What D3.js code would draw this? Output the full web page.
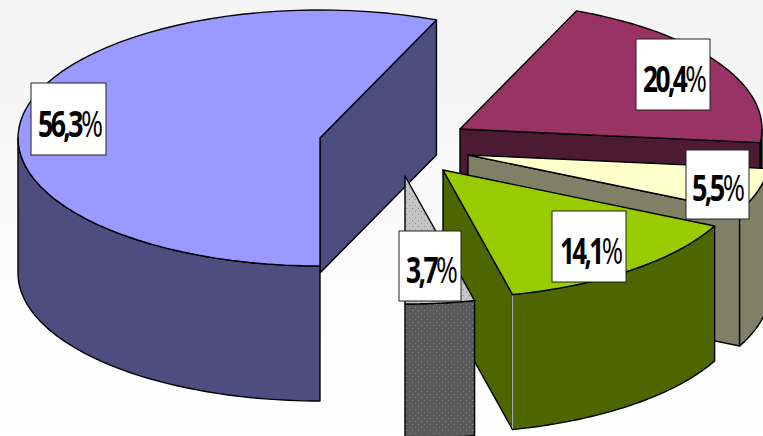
<!DOCTYPE html>
<html>
<head>
<meta charset="utf-8">
<style>
  html, body { margin: 0; padding: 0; background: #fff; }
  svg { display: block; }
</style>
<script src="https://cdnjs.cloudflare.com/ajax/libs/d3/7.8.5/d3.min.js"></script>
</head>
<body>
<svg id="chart" width="763" height="436"></svg>
<script>
// Share of each segment, in percent, clockwise from the front of the pie.
const segments = ["a", "b", "c", "d", "e"];
const shares = [56.3, 20.4, 5.5, 14.1, 3.7];

// Top and wall fills per segment.
const topFills = ["#9999ff", "#993366", "#ffffcc", "#99cc00", "url(#dotsLight)"];
const wallFills = ["#4d4d80", "#4d1a33", "#808066", "#4d6600", "url(#dotsDark)"];

// Where each exploded wedge has its apex.
const apexX = [320, 460, 468, 443, 405];
const apexY = [138, 129, 155, 170, 176];

// Label boxes: left, top, right, bottom, then text left, text right, baseline.
const boxLeft = [31, 636, 686, 552, 399];
const boxTop = [83, 39, 150, 211, 231];
const boxRight = [106, 710, 749, 626, 461];
const boxBottom = [155, 110, 219, 282, 301];
const textLeft = [38, 643, 692, 560, 406];
const textRight = [103, 707, 745, 623, 458];
const baseline = [137, 92, 201, 264, 283];

const radiusX = 302, radiusY = 128, depth = 135;
const tracking = -3.5;
const svg = d3.select("#chart");
const defs = svg.append("defs");

// Soft page background.
const bg = defs.append("linearGradient").attr("id", "page")
  .attr("x1", 0).attr("y1", 0).attr("x2", 0).attr("y2", 1);
bg.append("stop").attr("offset", "0").attr("stop-color", "#f4f4f4");
bg.append("stop").attr("offset", "0.25").attr("stop-color", "#f6f6f6");
bg.append("stop").attr("offset", "0.55").attr("stop-color", "#fbfbfb");
bg.append("stop").attr("offset", "1").attr("stop-color", "#ffffff");
svg.append("rect").attr("width", 763).attr("height", 436).attr("fill", "url(#page)");

// Dotted fills of the smallest segment.
function dots(id, base, dot) {
  const p = defs.append("pattern").attr("id", id).attr("patternUnits", "userSpaceOnUse")
    .attr("width", 6).attr("height", 6);
  p.append("rect").attr("width", 6).attr("height", 6).attr("fill", base);
  p.append("rect").attr("x", 1).attr("y", 1).attr("width", 1).attr("height", 1).attr("fill", dot);
  p.append("rect").attr("x", 4).attr("y", 4).attr("width", 1).attr("height", 1).attr("fill", dot);
}
dots("dotsLight", "#c4c4c4", "#8f8f8f");
dots("dotsDark", "#5a5a5a", "#858585");

const pie = d3.pie().sort(null).startAngle(0).endAngle(2 * Math.PI);
const arcs = pie(shares);
const line = d3.line();

// Projects an angle, measured clockwise from the front, onto the tilted rim.
const rim = (i, t, drop = 0) => [
  apexX[i] - radiusX * Math.sin(t),
  apexY[i] + radiusY * Math.cos(t) + drop
];
const sweep = (i, a, b, drop = 0) =>
  d3.range(0, 61).map(k => rim(i, a + (b - a) * k / 60, drop));

const paint = (d, fill, parent) => parent.append("path")
  .attr("d", d).attr("fill", fill).attr("stroke", "#000")
  .attr("stroke-width", 1.4).attr("stroke-linejoin", "round");

const QUARTER = Math.PI / 2;

arcs.forEach((arc, i) => {
  const g = svg.append("g").attr("class", "segment-" + segments[i]);
  const a = arc.startAngle, b = arc.endAngle;

  // Cut face behind the end edge, seen when it turns towards the viewer.
  if (Math.sin(b) < -1e-6) {
    const e = rim(i, b);
    const o = [apexX[i], apexY[i]];
    paint(line([o, e, [e[0], e[1] + depth], [o[0], o[1] + depth]]) + "Z", wallFills[i], g);
  }

  // Outer wall: only the front half of the rim faces the viewer.
  const ranges = [[a, Math.min(b, QUARTER)], [Math.max(a, 3 * QUARTER), b]];
  ranges.filter(r => r[1] > r[0]).forEach(r => {
    const pts = sweep(i, r[0], r[1]).concat(sweep(i, r[1], r[0], depth));
    paint(line(pts) + "Z", wallFills[i], g);
  });

  // Top face.
  const top = [[apexX[i], apexY[i]]].concat(sweep(i, a, b));
  paint(line(top) + "Z", topFills[i], g);

  // Pale seam down the corner of the green wedge.
  if (segments[i] === "d") {
    const c = rim(i, b);
    g.append("path").attr("d", line([[c[0], c[1] + 1], [c[0], c[1] + depth - 1]]))
      .attr("stroke", "#a8a8a8").attr("stroke-width", 1.4).attr("fill", "none");
  }
});

// Value labels in white boxes, condensed to their box.
const labelText = v => v.toFixed(1).replace(".", ",") + "%";
shares.forEach((v, i) => {
  const g = svg.append("g").attr("class", "label");
  g.append("rect")
    .attr("x", boxLeft[i]).attr("y", boxTop[i])
    .attr("width", boxRight[i] - boxLeft[i]).attr("height", boxBottom[i] - boxTop[i])
    .attr("fill", "#fff").attr("stroke", "#222").attr("stroke-width", 1);
  const s = labelText(v);
  const t = g.append("text")
    .attr("font-family", "'Open Sans', 'Liberation Sans', sans-serif")
    .attr("font-size", 36).attr("letter-spacing", tracking).attr("fill", "#000");
  t.append("tspan").attr("font-weight", 700).text(s.slice(0, -1));
  t.append("tspan").attr("font-weight", 400).text("%");
  // The last glyph carries no visible tracking, so leave it out of the fit.
  const w = t.node().getComputedTextLength() - tracking;
  const k = (textRight[i] - textLeft[i]) / w;
  t.attr("transform", `translate(${textLeft[i]},${baseline[i]}) scale(${k},1)`);
});
</script>
</body>
</html>
